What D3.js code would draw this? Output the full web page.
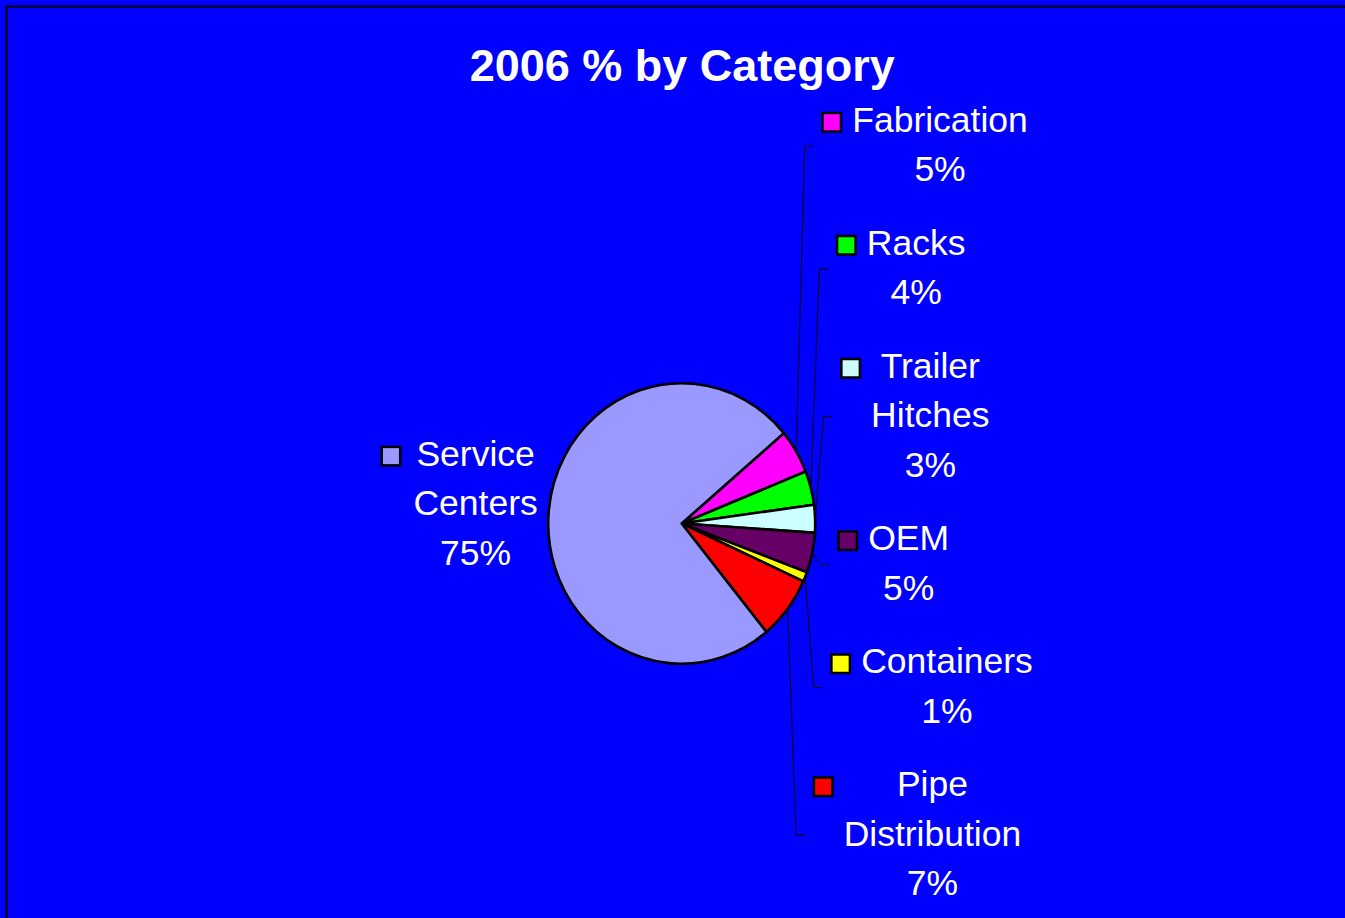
<!DOCTYPE html>
<html><head><meta charset="utf-8">
<script src="https://cdn.jsdelivr.net/npm/d3@7"></script>
<style>html,body{margin:0;padding:0;background:#0000FF;overflow:hidden}</style>
</head><body>
<svg id="chart" width="1345" height="918"></svg>
<script>
// ---- data ----
const chartTitle = "2006 % by Category";
const categories = ["Fabrication", "Racks", "Trailer Hitches", "OEM", "Containers", "Pipe Distribution", "Service Centers"];
const values = [5.1, 3.9, 3.2, 4.6, 1.1, 7.3, 74.8];
const colors = ["#FF00FF", "#00FF00", "#CCFFFF", "#660066", "#FFFF00", "#FF0000", "#9999FF"];

// ---- layout ----
const W = 1345, H = 918;
const cx = 681.7, cy = 523.5, rx = 133.5, ry = 140.3;
const startDeg = 49.9;
const fontFam = "'Liberation Sans', Arial, sans-serif";
const labelSize = 35.5, lineH = 49.5, stackGap = 24, stackTop = 96.5;

const svg = d3.select("#chart");
svg.append("rect").attr("x", 0).attr("y", 0).attr("width", W).attr("height", H).attr("fill", "#0000FF");
svg.append("rect").attr("x", 6.5).attr("y", 6.5).attr("width", W + 20).attr("height", H + 20)
  .attr("fill", "none").attr("stroke", "#000").attr("stroke-width", 2);

svg.append("text").attr("x", 682.3).attr("y", 81).attr("text-anchor", "middle")
  .attr("font-family", fontFam).attr("font-weight", "bold").attr("font-size", 45)
  .attr("fill", "#fff").text(chartTitle);

const total = d3.sum(values);
const data = categories.map((c, i) => ({ name: c, value: values[i], color: colors[i] }));
const s0 = startDeg * Math.PI / 180;
const pie = d3.pie().sort(null).value(d => d.value).startAngle(s0).endAngle(s0 + 2 * Math.PI);
const arcs = pie(data);
const arc = d3.arc().innerRadius(0).outerRadius(rx);

const pg = svg.append("g").attr("transform", `translate(${cx},${cy}) scale(1,${ry / rx})`);
pg.selectAll("path").data(arcs).join("path")
  .attr("d", arc).attr("fill", d => d.data.color)
  .attr("stroke", "#000").attr("stroke-width", 2.6)
  .attr("vector-effect", "non-scaling-stroke").attr("stroke-linejoin", "round");

function midPoint(a) {
  const m = (a.startAngle + a.endAngle) / 2;
  return [cx + rx * Math.sin(m), cy - ry * Math.cos(m)];
}

const lg = svg.append("g");
const lbls = arcs.map(a => {
  const pct = Math.round(a.data.value / total * 100) + "%";
  const lines = a.data.name.split(" ").concat([pct]);
  const g = lg.append("g");
  const texts = lines.map(t => g.append("text").attr("text-anchor", "middle")
    .attr("font-family", fontFam).attr("font-size", labelSize).attr("fill", "#fff").text(t));
  const maxW = d3.max(texts, t => t.node().getComputedTextLength());
  return { a, lines, g, texts, maxW, mid: midPoint(a) };
});

let stackY = stackTop;
lbls.forEach(L => {
  const n = L.lines.length;
  const h = n * lineH;
  const [mx, my] = L.mid;
  let ccy, keyLeft, blockLeft;
  const right = mx > cx;
  if (right) {
    ccy = stackY + h / 2;
    stackY += h + stackGap;
    keyLeft = mx + 25;
    blockLeft = keyLeft + 21 + 10;
    lg.append("path")
      .attr("d", d3.line()([[mx, my], [keyLeft - 16.5, ccy], [keyLeft - 8, ccy]]))
      .attr("fill", "none").attr("stroke", "#000").attr("stroke-width", 1);
  } else {
    ccy = my - 6;
    blockLeft = mx - 11 - L.maxW;
    keyLeft = blockLeft - 12 - 21;
  }
  const base0 = ccy - (n - 1) / 2 * lineH + 10.5;
  L.texts.forEach((t, i) => t.attr("x", blockLeft + L.maxW / 2).attr("y", base0 + i * lineH));
  L.g.append("rect").attr("x", keyLeft + 1.25).attr("y", base0 - 18.75)
    .attr("width", 18.5).attr("height", 18.5)
    .attr("fill", L.a.data.color).attr("stroke", "#000").attr("stroke-width", 2.5);
});
</script>
</body></html>
